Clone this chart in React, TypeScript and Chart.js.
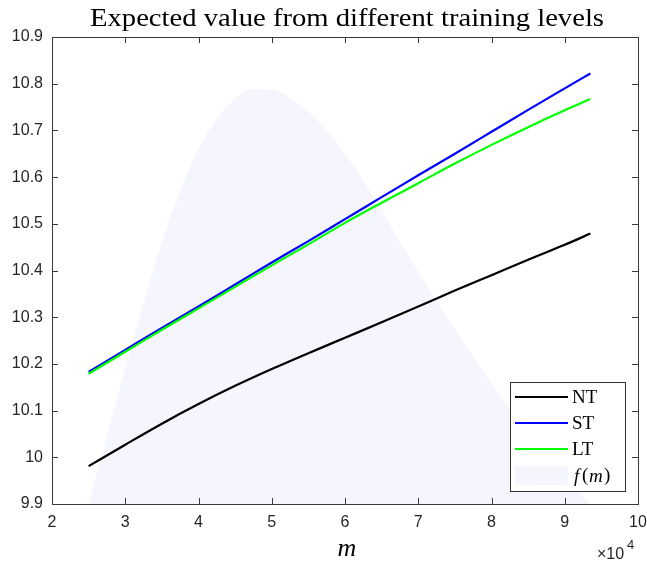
import React, { useEffect, useRef } from 'react';
import { Chart, registerables } from 'chart.js';

Chart.register(...registerables);

// Market size m (in units of 10^4) at which the expected values are evaluated
const mValues = [2.5, 3.0, 3.5, 4.0, 4.5, 5.0, 5.5, 6.0, 6.5, 7.0, 7.5, 8.0, 8.5, 9.0, 9.35];

// Expected value under each training level
const ntValues = [9.981, 10.027, 10.072, 10.114, 10.153, 10.189, 10.223, 10.256, 10.289, 10.323, 10.357, 10.39, 10.423, 10.455, 10.479];
const stValues = [10.183, 10.23, 10.277, 10.323, 10.37, 10.417, 10.463, 10.51, 10.557, 10.604, 10.65, 10.697, 10.744, 10.79, 10.822];
const ltValues = [10.179, 10.226, 10.273, 10.319, 10.365, 10.411, 10.456, 10.502, 10.545, 10.587, 10.629, 10.669, 10.707, 10.743, 10.767];

// Density f(m), rescaled onto the value axis
const densityM = [2.5, 2.75, 3.0, 3.25, 3.5, 3.75, 4.0, 4.25, 4.5, 4.75, 5.0, 5.25, 5.5, 5.75, 6.0, 6.25, 6.5, 6.75, 7.0, 7.25, 7.5, 7.75, 8.0, 8.25, 8.5, 8.75, 9.0, 9.35];
const densityValues = [9.9, 10.045, 10.19, 10.33, 10.46, 10.57, 10.66, 10.725, 10.768, 10.788, 10.787, 10.77, 10.74, 10.7, 10.65, 10.592, 10.528, 10.462, 10.398, 10.335, 10.273, 10.215, 10.16, 10.105, 10.052, 10.003, 9.96, 9.9];

// Axis ticks
const xTicks = [2, 3, 4, 5, 6, 7, 8, 9, 10];
const yTicks = [9.9, 10.0, 10.1, 10.2, 10.3, 10.4, 10.5, 10.6, 10.7, 10.8, 10.9];

const seriesLabels = ['NT', 'ST', 'LT'];
const seriesColors = ['#000000', '#0000ff', '#00ff00'];
const densityColor = 'rgb(244,245,253)';
const axisColor = '#3a3a3a';

const TITLE = 'Expected value from different training levels';
const SANS = '"Liberation Sans", Arial, sans-serif';
const SERIF = '"Liberation Serif", "Times New Roman", serif';

const toPoints = (xs: number[], ys: number[]) => xs.map((x, i) => ({ x, y: ys[i] }));

const framePlugin = {
  id: 'frame',
  afterDatasetsDraw(chart: any) {
    const { ctx, chartArea } = chart;
    const { left, right, top, bottom } = chartArea;
    const xs = chart.scales.x;
    const ys = chart.scales.y;
    const tick = 6;

    ctx.save();
    // axes box
    ctx.strokeStyle = axisColor;
    ctx.lineWidth = 1;
    ctx.strokeRect(Math.round(left) + 0.5, Math.round(top) + 0.5, Math.round(right - left), Math.round(bottom - top));

    // inward tick marks on all four sides
    ctx.beginPath();
    xTicks.forEach((v) => {
      const px = Math.round(xs.getPixelForValue(v)) + 0.5;
      ctx.moveTo(px, bottom);
      ctx.lineTo(px, bottom - tick);
      ctx.moveTo(px, top);
      ctx.lineTo(px, top + tick);
    });
    yTicks.forEach((v) => {
      const py = Math.round(ys.getPixelForValue(v)) + 0.5;
      ctx.moveTo(left, py);
      ctx.lineTo(left + tick, py);
      ctx.moveTo(right, py);
      ctx.lineTo(right - tick, py);
    });
    ctx.stroke();

    // legend box, lower right
    const lx = 510;
    const ly = 382;
    const lw = 115;
    const lh = 109;
    ctx.fillStyle = '#ffffff';
    ctx.fillRect(lx, ly, lw, lh);
    ctx.strokeStyle = '#333333';
    ctx.strokeRect(lx + 0.5, ly + 0.5, lw, lh);
    const rows = [397, 423, 449, 475.5];
    ctx.font = `19px ${SERIF}`;
    ctx.textBaseline = 'middle';
    ctx.textAlign = 'left';
    seriesLabels.forEach((label, i) => {
      ctx.strokeStyle = seriesColors[i];
      ctx.lineWidth = 2;
      ctx.beginPath();
      ctx.moveTo(515, rows[i]);
      ctx.lineTo(568, rows[i]);
      ctx.stroke();
      ctx.fillStyle = '#000000';
      ctx.fillText(label, 572, rows[i] + 1);
    });
    ctx.fillStyle = densityColor;
    ctx.fillRect(515, 466, 53, 19);
    ctx.fillStyle = '#000000';
    ctx.font = `italic 19px ${SERIF}`;
    ctx.fillText('f', 574, rows[3] + 1);
    ctx.font = `19px ${SERIF}`;
    ctx.fillText('(', 582, rows[3] + 1);
    ctx.font = `italic 19px ${SERIF}`;
    ctx.fillText('m', 589, rows[3] + 1);
    ctx.font = `19px ${SERIF}`;
    ctx.fillText(')', 604, rows[3] + 1);
    ctx.restore();
  },
  afterDraw(chart: any) {
    const { ctx, chartArea } = chart;
    const cx = (chartArea.left + chartArea.right) / 2;
    ctx.save();
    ctx.fillStyle = '#000000';
    ctx.textAlign = 'center';
    ctx.textBaseline = 'alphabetic';
    // title, stretched slightly to the width of the serif heading
    ctx.font = `25px ${SERIF}`;
    const w = ctx.measureText(TITLE).width;
    const target = 514;
    ctx.save();
    ctx.translate(347, 26);
    ctx.scale(target / w, 1);
    ctx.fillText(TITLE, 0, 0);
    ctx.restore();
    // x axis label
    ctx.font = `italic 26px ${SERIF}`;
    ctx.fillText('m', cx + 2, 556);
    // exponent of the x axis
    ctx.textAlign = 'left';
    ctx.fillStyle = '#262626';
    ctx.font = `16px ${SANS}`;
    ctx.fillText('\u00d710', 597, 559);
    ctx.font = `13px ${SANS}`;
    ctx.fillText('4', 627, 549);
    ctx.restore();
  },
};

export default function App() {
  const canvasRef = useRef<HTMLCanvasElement | null>(null);

  useEffect(() => {
    document.body.style.margin = '0';
    const canvas = canvasRef.current;
    if (!canvas) return;
    // lower order is drawn on top: LT over ST over NT, density underneath
    const drawOrder = [2, 1, 0];
    const chart = new Chart(canvas, {
      type: 'line',
      data: {
        datasets: [
          ...seriesLabels.map((label, i) => ({
            label,
            data: toPoints(mValues, [ntValues, stValues, ltValues][i]),
            borderColor: seriesColors[i],
            borderWidth: 2.2,
            pointRadius: 0,
            fill: false,
            order: drawOrder[i],
            cubicInterpolationMode: 'monotone' as const,
          })),
          {
            label: 'f(m)',
            data: toPoints(densityM, densityValues),
            borderWidth: 0,
            borderColor: densityColor,
            backgroundColor: densityColor,
            pointRadius: 0,
            fill: 'start',
            order: 3,
            cubicInterpolationMode: 'monotone' as const,
          },
        ],
      },
      options: {
        responsive: false,
        animation: false,
        devicePixelRatio: 1,
        layout: { padding: { top: 37, right: 9, left: 0, bottom: 0 } },
        plugins: {
          legend: { display: false },
          title: { display: false },
          tooltip: { enabled: false },
        },
        scales: {
          x: {
            type: 'linear',
            min: 2,
            max: 10,
            afterFit: (s: any) => {
              s.height = 59;
              s.paddingLeft = 0;
              s.paddingRight = 0;
            },
            afterBuildTicks: (s: any) => {
              s.ticks = xTicks.map((value) => ({ value }));
            },
            grid: { display: false, drawTicks: false },
            border: { display: false },
            ticks: {
              padding: 9,
              color: '#262626',
              font: { family: SANS, size: 16 },
              maxRotation: 0,
              callback: (v: any) => String(v),
            },
          },
          y: {
            type: 'linear',
            min: 9.9,
            max: 10.9,
            afterFit: (s: any) => {
              s.width = 52;
              s.paddingTop = 0;
              s.paddingBottom = 0;
            },
            afterBuildTicks: (s: any) => {
              s.ticks = yTicks.map((value) => ({ value }));
            },
            grid: { display: false, drawTicks: false },
            border: { display: false },
            ticks: {
              padding: 9,
              color: '#262626',
              font: { family: SANS, size: 16 },
              callback: (v: any) => String(Number(Number(v).toFixed(1))),
            },
          },
        },
      },
      plugins: [framePlugin],
    });
    return () => chart.destroy();
  }, []);

  return <canvas ref={canvasRef} width={647} height={563} style={{ display: 'block' }} />;
}
